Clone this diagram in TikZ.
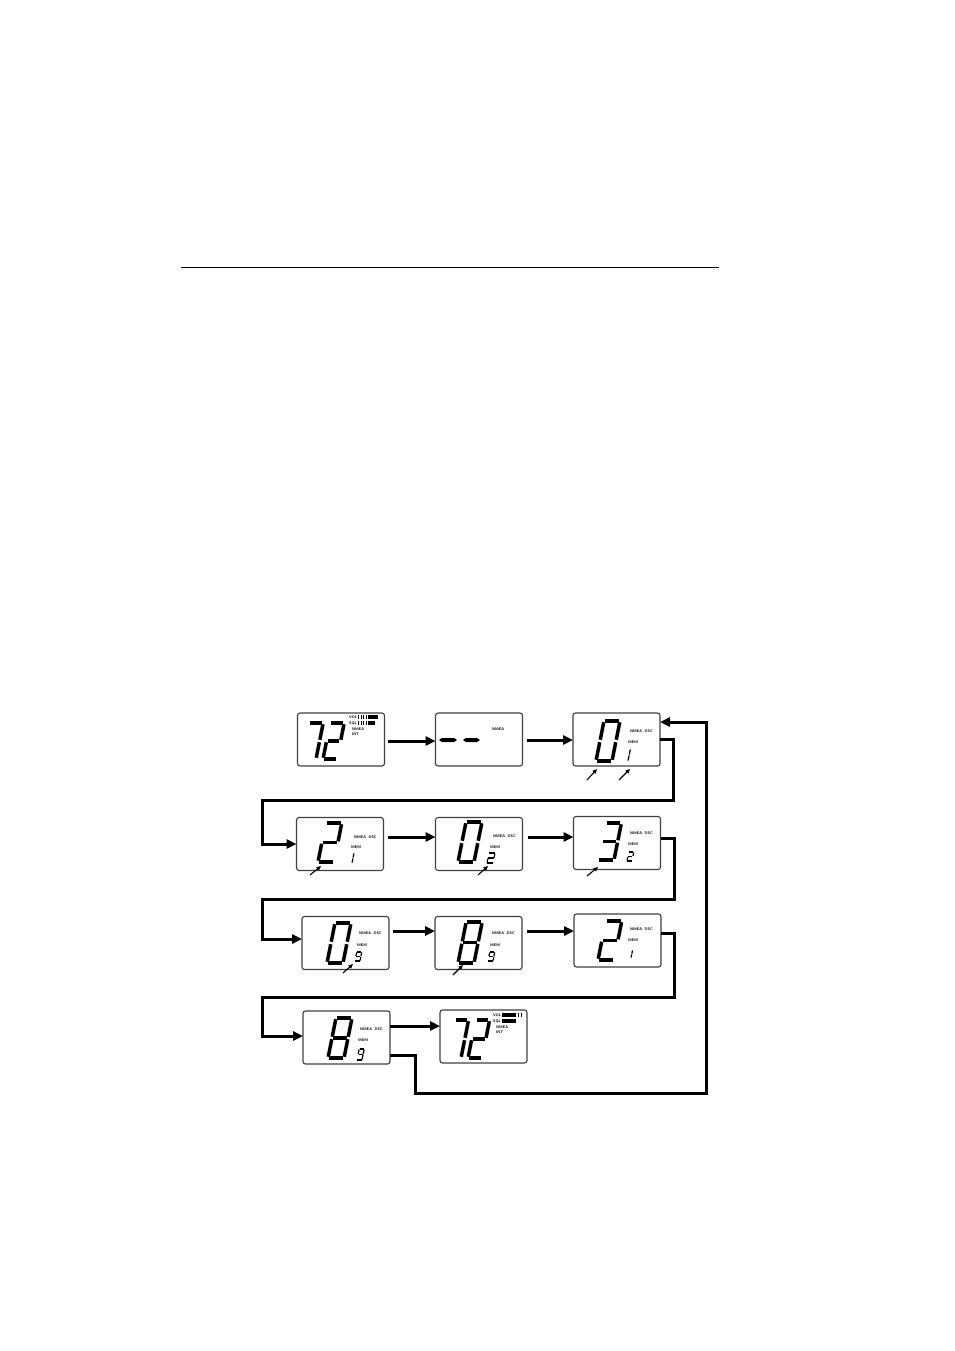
\documentclass[tikz,border=0pt]{standalone}
\usetikzlibrary{arrows.meta}
\newcommand\segdig[6]{%
 \begin{scope}[shift={(#1,#2)}, xslant=0.2, line width=#5pt, line cap=butt]
  \pgfmathsetmacro\sgW{#3}\pgfmathsetmacro\sgH{#4}\pgfmathsetmacro\sgM{#4/2}\pgfmathsetmacro\sgG{#5*0.35}
  \foreach \s in {#6}{\csname sgseg\s\endcsname}
 \end{scope}}
\def\sgsega{\draw (\sgG,-\sgH) -- (\sgW-\sgG,-\sgH);}
\def\sgsegb{\draw (\sgW,-\sgH+\sgG) -- (\sgW,-\sgM-\sgG);}
\def\sgsegc{\draw (\sgW,-\sgM+\sgG) -- (\sgW,-\sgG);}
\def\sgsegd{\draw (\sgG,0) -- (\sgW-\sgG,0);}
\def\sgsege{\draw (0,-\sgM+\sgG) -- (0,-\sgG);}
\def\sgsegf{\draw (0,-\sgH+\sgG) -- (0,-\sgM-\sgG);}
\def\sgsegg{\draw (\sgG,-\sgM) -- (\sgW-\sgG,-\sgM);}
\tikzset{
 lcd/.style={draw=black!75, line width=1.1pt, rounded corners=2.5pt, minimum width=87pt, minimum height=53pt, inner sep=0pt, outer sep=0pt},
 flow/.style={line width=3pt, -{Triangle[length=10pt,width=9pt]}},
 ptr/.style={line width=1.1pt, -{Triangle[length=4.5pt,width=4pt]}},
 tiny/.style={font=\fontsize{3.8}{4}\selectfont\sffamily\bfseries, inner sep=0pt, anchor=west},
}
\begin{document}
\begin{tikzpicture}[x=1pt,y=-1pt]
\useasboundingbox (0,0) rectangle (954,1351);
\draw[line width=0.8pt] (181,267) -- (719,267);
% boxes
\node[lcd] (a1) at (341,739.5) {};
\node[lcd] (a2) at (479,739.5) {};
\node[lcd] (a3) at (616.5,739.5) {};
\node[lcd] (b1) at (340,844) {};
\node[lcd] (b2) at (479,844) {};
\node[lcd] (b3) at (617,843) {};
\node[lcd] (c1) at (345.5,943) {};
\node[lcd] (c2) at (478.5,943) {};
\node[lcd] (c3) at (617.5,940.5) {};
\node[lcd] (d1) at (346.5,1037.5) {};
\node[lcd] (d2) at (483.5,1036.5) {};
% big digits
\segdig{302}{759}{14}{36}{3.5}{a,b,c}
\segdig{323}{759}{14}{36}{3.5}{a,b,g,e,d}
\segdig{596}{761}{16}{40}{3.5}{a,b,c,d,e,f}
\segdig{318}{862}{16}{39}{3.5}{a,b,g,e,d}
\segdig{458}{862}{16}{40}{3.5}{a,b,c,d,e,f}
\segdig{598}{860}{16}{37}{3.5}{a,b,g,c,d}
\segdig{327}{963}{16}{40}{3.5}{a,b,c,d,e,f}
\segdig{458}{963}{16}{41}{3.5}{a,b,c,d,e,f,g}
\segdig{598}{960}{16}{39}{3.5}{a,b,g,e,d}
\segdig{328}{1058}{16}{40}{3.5}{a,b,c,d,e,f,g}
\segdig{447}{1058}{14}{38}{3.5}{a,b,c}
\segdig{468}{1058}{14}{38}{3.5}{a,b,g,e,d}
% small digits
\segdig{623}{761}{5}{12}{1.2}{b,c}
\segdig{347}{863}{5}{10}{1.2}{b,c}
\segdig{487}{863}{6}{10}{1.2}{a,b,g,e,d}
\segdig{627}{861}{5}{9}{1.2}{a,b,g,e,d}
\segdig{355}{961}{5}{9}{1.2}{a,b,c,d,f,g}
\segdig{488}{961}{5}{9}{1.2}{a,b,c,d,f,g}
\segdig{626}{958}{5}{8}{1.2}{b,c}
\segdig{357}{1060}{5}{11}{1.2}{a,b,c,d,f,g}
% dashes in a2
\fill (439,740) -- (442,738) -- (454,738) -- (457,740) -- (454,742) -- (442,742) -- cycle;
\fill (463,740) -- (466,738) -- (477,738) -- (480,740) -- (477,742) -- (466,742) -- cycle;
% small texts
\node[tiny] (t1) at (349,717) {VOL};
\node[tiny] (t2) at (349,723) {SQL};
\node[tiny] (t3) at (352,729) {NMEA};
\node[tiny] (t4) at (352,734) {INT};
\foreach \xx in {358,360.5,363,365.5}{\fill (\xx,715.2) rectangle ++(1.2,3.6); \fill (\xx,721.2) rectangle ++(1.2,3.6);}
\fill (367.5,715.2) rectangle (378,718.8);
\fill (367.5,721.2) rectangle (375,724.8);
\node[tiny] (t5) at (492,729) {NMEA};
\node[tiny] (t6) at (493,1015) {VOL};
\node[tiny] (t7) at (493,1021) {SQL};
\node[tiny] (t8) at (496,1027) {NMEA};
\node[tiny] (t9) at (496,1032) {INT};
\fill (502,1013.2) rectangle (516,1016.8);
\fill (518,1013.2) rectangle ++(1.2,3.6);
\fill (520.5,1013.2) rectangle ++(1.2,3.6);
\fill (502,1019.2) rectangle (516,1022.8);
\foreach \nx/\ny/\mx/\my [count=\i] in {630/731/628/742, 354/837/351/847, 493/836/490/847, 630/833/628/844, 359/933/357/945, 492/933/490/945, 630/929/628/940, 360/1029/358/1040}{
 \node[tiny] (n\i) at (\nx,\ny) {NMEA\hspace{2.5pt}DSC};
 \node[tiny] (m\i) at (\mx,\my) {MEM};
}
% pointer arrows
\coordinate (p1s) at (587,780); \coordinate (p1e) at (597,769);
\coordinate (p2s) at (619,780); \coordinate (p2e) at (630,769);
\coordinate (p3s) at (310,875); \coordinate (p3e) at (321,866);
\coordinate (p4s) at (478,875); \coordinate (p4e) at (488,866);
\coordinate (p5s) at (587,876); \coordinate (p5e) at (598,867);
\coordinate (p6s) at (343,973); \coordinate (p6e) at (353,964);
\coordinate (p7s) at (453,975); \coordinate (p7e) at (463,965);
\foreach \i in {1,...,7}{\draw[ptr] (p\i s) -- (p\i e);}
% flow arrows
\draw[flow] ([yshift=-1.5pt]a1.east) ++(3,0) -- ([yshift=-1.5pt]a2.west);
\draw[flow] ([yshift=-0.5pt]a2.east) ++(4,0) -- ([yshift=-0.5pt]a3.west);
\draw[flow] ([yshift=7pt]b1.east) ++(4,0) -- ([yshift=7pt]b2.west);
\draw[flow] ([yshift=7pt]b2.east) ++(5,0) -- ([yshift=6pt]b3.west);
\draw[flow] ([yshift=12pt]c1.east) ++(4,0) -- ([yshift=12pt]c2.west);
\draw[flow] ([yshift=12pt]c2.east) ++(5,0) -- ([yshift=9.5pt]c3.west);
\draw[flow] ([yshift=11.5pt]d1.east) -- ([yshift=10.5pt]d2.west);
% wrap connectors
\coordinate (w1) at (673,800); \coordinate (w2) at (262,800);
\draw[flow] ([yshift=0.5pt]a3.east) -| (w1) -- (w2) |- (b1.west);
\coordinate (w3) at (674,899); \coordinate (w4) at (262,899);
\draw[flow] ([yshift=5pt]b3.east) -| (w3) -- (w4) |- ([yshift=4pt]c1.west);
\coordinate (w5) at (674,997); \coordinate (w6) at (262,997);
\draw[flow] ([yshift=7.5pt]c3.east) -| (w5) -- (w6) |- ([yshift=1.5pt]d1.west);
\coordinate (w7) at (415,1093); \coordinate (w8) at (706,1093);
\draw[flow] ([yshift=-17.5pt]d1.east) -| (w7) -- (w8) |- ([yshift=17.5pt]a3.east);
\end{tikzpicture}
\end{document}
